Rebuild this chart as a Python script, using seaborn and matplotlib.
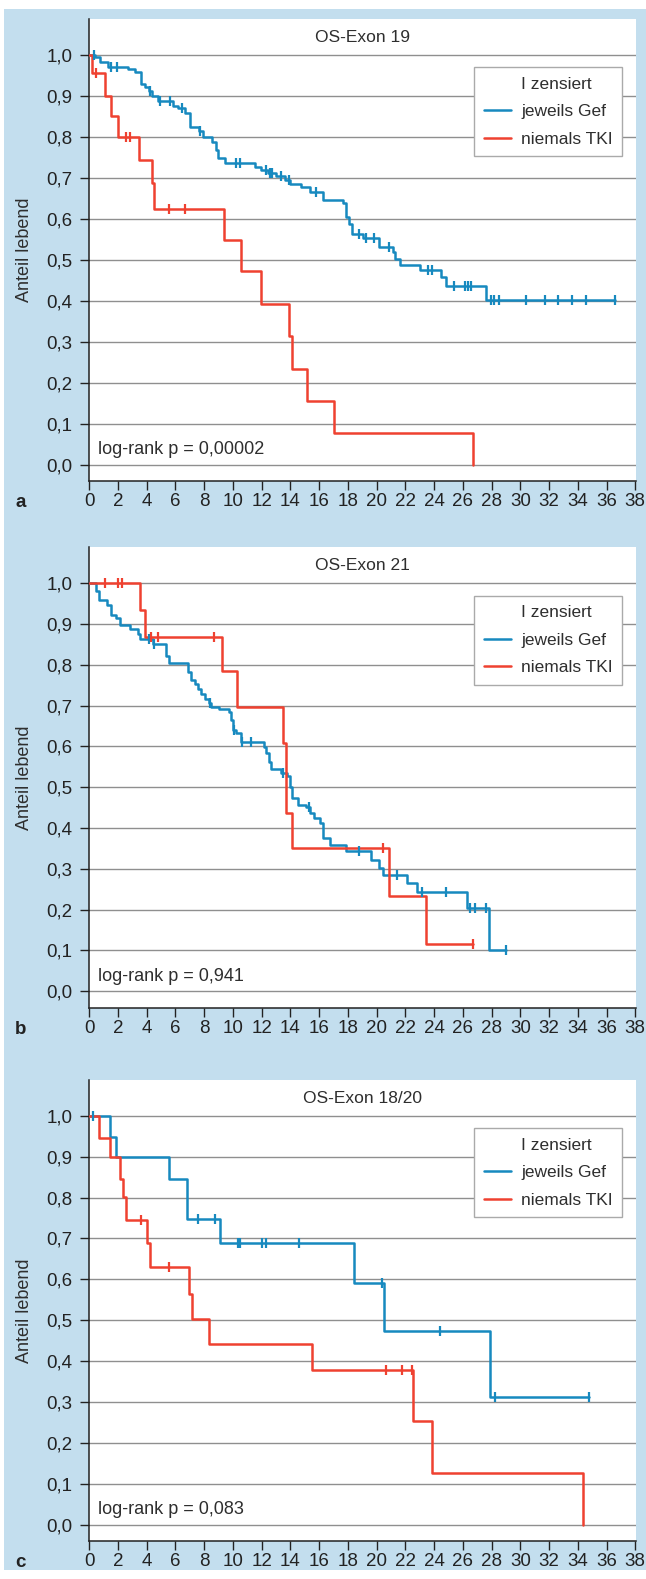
import numpy as np
import pandas as pd
import matplotlib
matplotlib.use('Agg')
import matplotlib.pyplot as plt
from matplotlib.lines import Line2D
from matplotlib.patches import Rectangle
import seaborn as sns

# ---------------- data ----------------
# Panel a: OS-Exon 19
a_gef_t = [0, 0.40, 0.74, 1.32, 2.67, 3.17, 3.59, 3.87, 4.15, 4.40, 4.75, 5.83, 6.18, 6.65,
           6.99, 7.64, 7.92, 8.57, 8.80, 8.96, 9.42, 11.56, 11.97, 12.43, 13.01, 13.59, 13.98,
           14.75, 15.33, 16.25, 17.64, 17.87, 18.06, 18.29, 19.03, 20.19, 21.11, 21.30, 21.62,
           23.01, 24.47, 24.82, 27.64]
a_gef_s = [1.0, 0.994, 0.984, 0.971, 0.966, 0.959, 0.930, 0.922, 0.913, 0.900, 0.888, 0.875,
           0.870, 0.859, 0.825, 0.815, 0.800, 0.788, 0.768, 0.748, 0.737, 0.727, 0.720, 0.712,
           0.704, 0.696, 0.686, 0.678, 0.666, 0.646, 0.639, 0.605, 0.588, 0.562, 0.552, 0.532,
           0.518, 0.503, 0.487, 0.476, 0.458, 0.435, 0.401]
a_gef_c = [0.33, 1.51, 1.90, 4.26, 4.91, 5.60, 6.42, 7.70, 10.19, 10.47, 12.30, 12.55, 12.74,
           13.36, 13.90, 15.79, 18.75, 19.26, 19.84, 20.88, 23.55, 23.85, 25.40, 26.14, 26.35,
           26.55, 27.95, 28.20, 28.50, 30.40, 31.70, 32.60, 33.60, 34.60, 36.60]
a_tki_t = [0, 0.17, 1.09, 1.51, 1.97, 3.47, 4.40, 4.49, 9.35, 10.56, 11.97, 13.89, 14.08,
           15.12, 17.00, 26.74]
a_tki_s = [1.0, 0.955, 0.900, 0.850, 0.800, 0.743, 0.688, 0.625, 0.549, 0.473, 0.393, 0.313,
           0.233, 0.156, 0.078, 0.0]
a_tki_c = [0.47, 2.53, 2.83, 5.53, 6.67]

# Panel b: OS-Exon 21
b_gef_t = [0, 0.46, 0.69, 1.20, 1.49, 1.84, 2.12, 2.84, 3.36, 3.56, 4.42, 5.37, 5.57, 6.86,
           7.06, 7.38, 7.58, 7.81, 8.07, 8.30, 8.44, 9.01, 9.73, 9.87, 10.02, 10.22, 10.59,
           12.17, 12.31, 12.51, 12.66, 13.32, 13.75, 13.98, 14.12, 14.55, 15.10, 15.39, 15.67,
           16.05, 16.28, 16.76, 17.85, 19.63, 20.15, 20.44, 22.13, 22.80, 26.30, 27.80]
b_gef_s = [1.0, 0.980, 0.960, 0.948, 0.923, 0.915, 0.897, 0.888, 0.876, 0.864, 0.852, 0.823,
           0.804, 0.782, 0.764, 0.752, 0.741, 0.729, 0.717, 0.707, 0.698, 0.693, 0.685, 0.664,
           0.640, 0.632, 0.611, 0.599, 0.584, 0.562, 0.546, 0.534, 0.527, 0.501, 0.473, 0.456,
           0.451, 0.436, 0.424, 0.412, 0.375, 0.359, 0.345, 0.322, 0.302, 0.285, 0.266, 0.243,
           0.203, 0.100]
b_gef_c = [4.13, 4.48, 8.40, 10.10, 10.60, 11.25, 13.45, 15.30, 18.80, 21.40, 23.15, 24.80,
           26.50, 26.85, 27.60, 29.00]
b_tki_t = [0, 3.52, 3.87, 9.26, 10.30, 13.47, 13.71, 14.12, 20.83, 23.43]
b_tki_s = [1.0, 0.934, 0.869, 0.786, 0.698, 0.608, 0.438, 0.350, 0.233, 0.117]
b_tki_c = [1.09, 1.97, 2.29, 4.33, 4.79, 8.66, 20.47, 26.72]

# Panel c: OS-Exon 18/20
c_gef_t = [0, 1.46, 1.89, 5.57, 6.77, 9.10, 18.40, 20.49, 27.90]
c_gef_s = [1.0, 0.949, 0.900, 0.846, 0.748, 0.689, 0.592, 0.473, 0.311]
c_gef_c = [0.26, 7.60, 8.73, 10.36, 10.50, 12.05, 12.31, 14.61, 20.40, 24.40, 28.24, 34.79]
c_tki_t = [0, 0.69, 1.46, 2.12, 2.32, 2.55, 4.05, 4.22, 6.95, 7.15, 8.35, 15.53, 22.56,
           23.85, 34.33]
c_tki_s = [1.0, 0.947, 0.900, 0.846, 0.801, 0.745, 0.690, 0.629, 0.564, 0.503, 0.442, 0.377,
           0.254, 0.126, 0.0]
c_tki_c = [3.59, 5.57, 20.64, 21.79, 22.45]

titles = ['OS-Exon 19', 'OS-Exon 21', 'OS-Exon 18/20']
p_texts = ['log-rank p = 0,00002', 'log-rank p = 0,941', 'log-rank p = 0,083']
letters = ['a', 'b', 'c']
group_labels = ['jeweils Gef', 'niemals TKI']
legend_title = 'I zensiert'
y_label = 'Anteil lebend'

x_ticks = [0, 2, 4, 6, 8, 10, 12, 14, 16, 18, 20, 22, 24, 26, 28, 30, 32, 34, 36, 38]
y_ticks = [0.0, 0.1, 0.2, 0.3, 0.4, 0.5, 0.6, 0.7, 0.8, 0.9, 1.0]
y_tick_labels = ['0,0', '0,1', '0,2', '0,3', '0,4', '0,5', '0,6', '0,7', '0,8', '0,9', '1,0']

BLUE = '#1789bf'
RED = '#ef4130'
TEXT = '#2e2e2e'
BG = '#c3deee'


def step_frame(times, surv, censor):
    t = list(times)
    s = list(surv)
    end = max(censor) if censor else t[-1]
    if end > t[-1]:
        t.append(end)
        s.append(s[-1])
    return pd.DataFrame({'Monate': t, 'Anteil': s})


def censor_frame(times, surv, censor):
    idx = np.searchsorted(times, censor, side='right') - 1
    return pd.DataFrame({'Monate': censor, 'Anteil': np.asarray(surv)[idx]})


sns.set_style('white')
plt.rcParams['font.family'] = ['Liberation Sans', 'DejaVu Sans']
plt.rcParams['text.color'] = TEXT
plt.rcParams['axes.labelcolor'] = TEXT
plt.rcParams['xtick.color'] = '#222222'
plt.rcParams['ytick.color'] = '#222222'

fig = plt.figure(figsize=(6.46, 15.79), dpi=100)
fig.patches.append(Rectangle((4 / 646, 9 / 1579), 1 - 4 / 646, 1561 / 1579,
                             transform=fig.transFigure, facecolor=BG, edgecolor='none',
                             zorder=-10))

panels = [
    (a_gef_t, a_gef_s, a_gef_c, a_tki_t, a_tki_s, a_tki_c),
    (b_gef_t, b_gef_s, b_gef_c, b_tki_t, b_tki_s, b_tki_c),
    (c_gef_t, c_gef_s, c_gef_c, c_tki_t, c_tki_s, c_tki_c),
]
# axes boxes in figure fractions
boxes = [
    [0.1382, 0.6954, 0.8463, 0.2926],
    [0.1382, 0.3619, 0.8463, 0.2914],
    [0.1382, 0.0241, 0.8463, 0.2920],
]

for i, (gt, gs, gc, rt, rs, rc) in enumerate(panels):
    ax = fig.add_axes(boxes[i])
    ax.set_facecolor('white')

    for t, s, c, col in [(gt, gs, gc, BLUE), (rt, rs, rc, RED)]:
        sns.lineplot(data=step_frame(t, s, c), x='Monate', y='Anteil', ax=ax,
                     drawstyle='steps-post', estimator=None, sort=False,
                     color=col, linewidth=1.8, zorder=3)
        sns.scatterplot(data=censor_frame(t, s, c), x='Monate', y='Anteil', ax=ax,
                        marker='|', s=50, linewidth=1.6, color=col, zorder=4)

    ax.set_xlim(0, 38.05)
    ax.set_ylim(-0.04, 1.088)
    ax.set_xticks(x_ticks)
    ax.set_yticks(y_ticks)
    ax.set_yticklabels(y_tick_labels)
    ax.tick_params(axis='both', direction='out', length=6.5, width=1.0,
                   labelsize=13.5, bottom=True, left=True)
    ax.tick_params(axis='x', pad=2.5)
    ax.tick_params(axis='y', pad=5.5)

    ax.yaxis.grid(True, color='#8f8f8f', linewidth=1.0)
    ax.xaxis.grid(False)
    ax.set_axisbelow(True)
    for side in ['top', 'right']:
        ax.spines[side].set_visible(False)
    for side in ['left', 'bottom']:
        ax.spines[side].set_color('#222222')
        ax.spines[side].set_linewidth(1.1)

    ax.set_xlabel('')
    ax.set_ylabel(y_label, fontsize=13)
    ax.yaxis.label.set_va('center')
    ax.yaxis.set_label_coords(-0.118, 0.5)

    ax.text(0.5, 0.960, titles[i], transform=ax.transAxes, ha='center', va='center',
            fontsize=12.5)
    ax.text(0.0165, 0.068, p_texts[i], transform=ax.transAxes, ha='left', va='center',
            fontsize=13)
    ax.text(-0.1257, -0.047, letters[i], transform=ax.transAxes, ha='center', va='center',
            fontsize=13.5, fontweight='bold', color='#222222')

    handles = [Line2D([], [], color='none'),
               Line2D([], [], color=BLUE, linewidth=1.8),
               Line2D([], [], color=RED, linewidth=1.8)]
    leg = ax.legend(handles, [legend_title] + group_labels, loc='upper left',
                    bbox_to_anchor=(0.704, 0.895), borderaxespad=0, fontsize=12.5,
                    frameon=True, fancybox=False, framealpha=1, edgecolor='#aaaaaa',
                    handlelength=1.6, handletextpad=0.56, borderpad=0.55,
                    labelspacing=0.7)
    leg.get_frame().set_linewidth(1.0)
    leg.set_zorder(5)

fig.savefig('out.png', dpi=100)
